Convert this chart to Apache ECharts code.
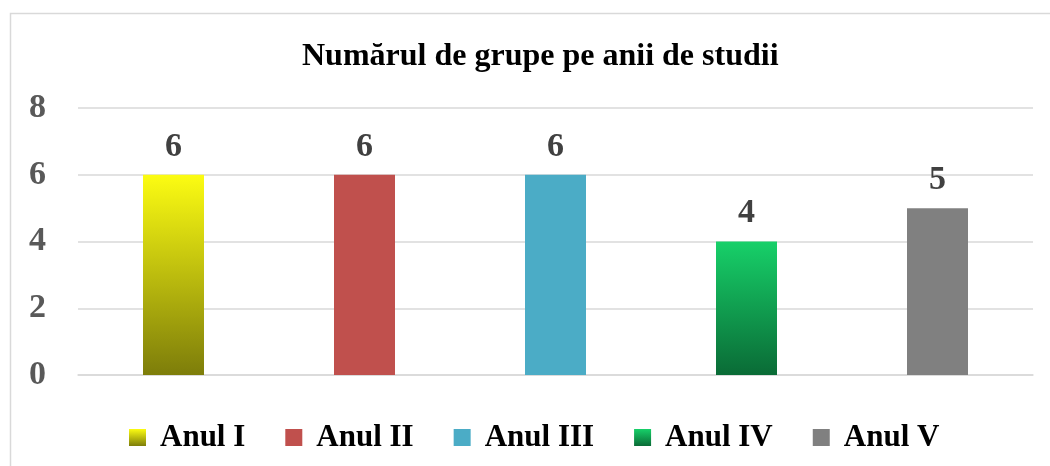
<!DOCTYPE html>
<html>
<head>
<meta charset="utf-8">
<script src="https://cdn.jsdelivr.net/npm/echarts@6/dist/echarts.min.js"></script>
<style>
  html, body { margin: 0; padding: 0; background: #fff; }
  #main { width: 1050px; height: 466px; }
</style>
</head>
<body>
<div id="main"></div>
<script>
// date din grafic
var categories = ['Anul I', 'Anul II', 'Anul III', 'Anul IV', 'Anul V'];
var values = [6, 6, 6, 4, 5];
var yTicks = [0, 2, 4, 6, 8];

var serif = '"Liberation Serif", "Times New Roman", serif';

// culori pentru fiecare an (unele cu gradient)
function grad(top, bottom) {
    return new echarts.graphic.LinearGradient(0, 0, 0, 1, [
        { offset: 0, color: top },
        { offset: 1, color: bottom }
    ]);
}
var colors = [
    grad('#fcfc12', '#7d7d0a'),
    '#c0504d',
    '#4bacc6',
    grad('#17d069', '#0a6b36'),
    '#808080'
];

var myChart = echarts.init(document.getElementById('main'));

var series = categories.map(function (name, i) {
    var data = categories.map(function (c, j) { return j === i ? values[i] : '-'; });
    return {
        name: name,
        type: 'bar',
        data: data,
        barWidth: 61,
        barGap: '-100%',
        itemStyle: { color: colors[i] },
        label: {
            show: true,
            position: 'top',
            distance: 11,
            fontFamily: serif,
            fontWeight: 'bold',
            fontSize: 34,
            color: '#404040'
        }
    };
});

var option = {
    animation: false,
    title: {
        text: 'Numărul de grupe pe anii de studii',
        left: 297,
        top: 36,
        textStyle: { fontFamily: serif, fontWeight: 'bold', fontSize: 32, color: '#000' }
    },
    legend: {
        top: 417,
        left: 124,
        itemWidth: 17,
        itemHeight: 17,
        itemGap: 40,
        icon: 'rect',
        textStyle: { fontFamily: serif, fontWeight: 'bold', fontSize: 31, color: '#000', padding: [0, 0, 0, 9] }
    },
    grid: { left: 78, right: 17, top: 108, bottom: 91, containLabel: false },
    xAxis: {
        type: 'category',
        data: categories,
        axisLine: { lineStyle: { color: '#d9d9d9', width: 1.5 } },
        axisTick: { show: false },
        axisLabel: { show: false }
    },
    yAxis: {
        type: 'value',
        min: yTicks[0],
        max: yTicks[yTicks.length - 1],
        interval: 2,
        axisLine: { show: false },
        axisTick: { show: false },
        splitLine: { lineStyle: { color: '#d9d9d9', width: 1.5 } },
        axisLabel: {
            margin: 32,
            fontFamily: serif,
            fontWeight: 'bold',
            fontSize: 34,
            color: '#595959'
        }
    },
    graphic: [{
        type: 'rect',
        shape: { x: 10.5, y: 13.5, width: 1100, height: 500 },
        style: { fill: 'none', stroke: '#d9d9d9', lineWidth: 1.5 },
        silent: true
    }],
    series: series
};
myChart.setOption(option);
</script>
</body>
</html>
